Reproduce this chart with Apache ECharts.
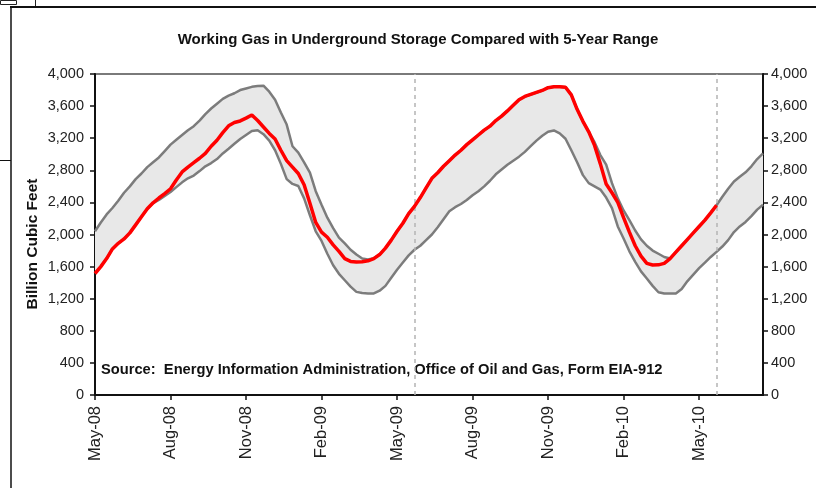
<!DOCTYPE html>
<html>
<head>
<meta charset="utf-8">
<script src="https://cdn.jsdelivr.net/npm/echarts@6/dist/echarts.min.js"></script>
<style>
html,body{margin:0;padding:0;background:#fff;}
#chart{width:816px;height:488px;}
</style>
</head>
<body>
<div id="chart"></div>
<script>
// Weekly observations, May 2008 to mid-July 2010 (116 weeks)
const tickLabels = ['May-08','Aug-08','Nov-08','Feb-09','May-09','Aug-09','Nov-09','Feb-10','May-10'];
const weekCount = 116;
const categories = Array.from({length: weekCount}, (_, i) => 'Week ' + (i + 1));

// 5-year maximum (Bcf)
const rangeMax = [
 2040,2150,2250,2330,2420,2520,2600,2690,2760,2840,
 2900,2960,3040,3120,3180,3240,3300,3350,3420,3500,
 3570,3630,3690,3730,3760,3800,3820,3840,3850,3855,
 3780,3680,3520,3370,3100,3020,2900,2770,2540,2370,
 2210,2080,1960,1890,1810,1750,1700,1690,1705,1750,
 1830,1930,2040,2140,2260,2350,2460,2580,2700,2770,
 2850,2920,2990,3050,3120,3180,3240,3300,3350,3420,
 3475,3540,3610,3680,3720,3745,3770,3795,3830,3840,
 3840,3835,3740,3560,3410,3280,3150,2990,2870,2640,
 2450,2300,2180,2050,1940,1860,1800,1760,1720,1700,
 1780,1860,1940,2020,2100,2180,2270,2364,2470,2570,
 2660,2720,2775,2850,2940,3010
];

// 5-year minimum (Bcf)
const rangeMin = [
 1514,1600,1700,1820,1890,1945,2020,2120,2220,2320,
 2390,2430,2480,2530,2590,2650,2700,2735,2790,2850,
 2890,2940,3010,3069,3130,3190,3240,3290,3300,3250,
 3170,3050,2880,2690,2630,2605,2450,2240,2040,1920,
 1760,1617,1510,1430,1350,1285,1270,1265,1265,1300,
 1360,1460,1560,1650,1740,1810,1860,1930,2000,2090,
 2190,2290,2340,2380,2430,2490,2540,2600,2670,2750,
 2810,2870,2920,2970,3030,3100,3170,3230,3280,3297,
 3260,3193,3050,2900,2740,2640,2600,2560,2460,2330,
 2100,1950,1790,1660,1540,1452,1360,1280,1265,1265,
 1265,1320,1420,1500,1580,1650,1720,1783,1850,1930,
 2030,2100,2156,2230,2310,2370
];

// Working gas in storage (Bcf), through week 108
const storage = [
 1514,1600,1700,1820,1890,1945,2020,2120,2220,2320,
 2395,2455,2510,2570,2680,2780,2840,2895,2950,3010,
 3100,3175,3270,3355,3395,3415,3450,3490,3420,3340,
 3260,3190,3050,2920,2840,2760,2620,2390,2150,2030,
 1965,1870,1790,1700,1665,1658,1660,1672,1700,1750,
 1830,1930,2040,2140,2260,2350,2460,2580,2700,2770,
 2850,2920,2990,3050,3120,3180,3240,3300,3350,3420,
 3475,3540,3610,3680,3720,3745,3770,3795,3830,3840,
 3840,3835,3740,3560,3410,3280,3110,2880,2630,2520,
 2400,2210,2030,1860,1730,1640,1620,1622,1640,1700,
 1780,1860,1940,2020,2100,2180,2270,2364
];

// Week indices of the dashed reference lines
const markerWeeks = [55, 107];

const bandWidth = rangeMax.map((v, i) => v - rangeMin[i]);
const storageFull = categories.map((_, i) => i < storage.length ? storage[i] : null);

const fmt = v => v.toLocaleString('en-US');
const labelFont = 'Liberation Sans, Arial, sans-serif';

const chart = echarts.init(document.getElementById('chart'), null, {renderer: 'canvas'});
chart.setOption({
  animation: false,
  backgroundColor: '#ffffff',
  title: {
    text: 'Working Gas in Underground Storage Compared with 5-Year Range',
    left: 413, top: 27, textAlign: 'center',
    textStyle: {fontFamily: labelFont, fontWeight: 'bold', fontSize: 15, color: '#111'}
  },
  grid: {
    left: 95, right: 53, top: 74, bottom: 93,
    show: true, borderColor: '#7a7a7a', borderWidth: 2, backgroundColor: '#fff'
  },
  xAxis: {
    type: 'category', data: categories, boundaryGap: false,
    axisLine: {lineStyle: {color: '#111', width: 2}},
    axisTick: {interval: 12, length: 5, lineStyle: {color: '#111', width: 1.5}},
    axisLabel: {
      interval: 12, rotate: 90, margin: 11,
      fontFamily: labelFont, fontSize: 16.5, color: '#222',
      formatter: (v, idx) => tickLabels[Math.round(idx / 13)] || ''
    },
    splitLine: {show: false}
  },
  yAxis: [{
    type: 'value', min: 0, max: 4000, interval: 400, position: 'left',
    axisLine: {show: true, lineStyle: {color: '#111', width: 2}},
    axisTick: {show: true, length: 5, lineStyle: {color: '#111', width: 1.5}},
    axisLabel: {formatter: fmt, margin: 11, fontFamily: labelFont, fontSize: 14.5, color: '#222'},
    splitLine: {show: false}
  }, {
    type: 'value', min: 0, max: 4000, interval: 400, position: 'right',
    axisLine: {show: true, lineStyle: {color: '#111', width: 2}},
    axisTick: {show: true, length: 5, lineStyle: {color: '#111', width: 1.5}},
    axisLabel: {formatter: fmt, margin: 8, fontFamily: labelFont, fontSize: 14.5, color: '#222'},
    splitLine: {show: false}
  }],
  series: [
    {
      name: 'minBase', type: 'line', data: rangeMin, stack: 'range', symbol: 'none',
      lineStyle: {width: 0, opacity: 0}, z: 1, silent: true
    },
    {
      name: 'band', type: 'line', data: bandWidth, stack: 'range', symbol: 'none',
      lineStyle: {width: 0, opacity: 0}, areaStyle: {color: '#e8e8e8', opacity: 1}, z: 1, silent: true
    },
    {
      name: '5-Year Minimum', type: 'line', data: rangeMin, symbol: 'none',
      lineStyle: {color: '#7c7c7c', width: 2.5}, z: 3
    },
    {
      name: '5-Year Maximum', type: 'line', data: rangeMax, symbol: 'none',
      lineStyle: {color: '#7c7c7c', width: 2.5}, z: 3
    },
    {
      name: 'Working Gas', type: 'line', data: storageFull, symbol: 'none', connectNulls: false,
      lineStyle: {color: '#ff0000', width: 3.5}, z: 5,
      markLine: {
        silent: true, symbol: ['none', 'none'], label: {show: false},
        lineStyle: {color: '#b4b4b4', type: [4, 4], width: 1.5},
        data: markerWeeks.map(w => ({xAxis: w}))
      }
    }
  ],
  graphic: [
    {type: 'text', x: 33, y: 244, rotation: Math.PI / 2, style: {
      text: 'Billion Cubic Feet', align: 'center', verticalAlign: 'middle',
      font: 'bold 15.5px Liberation Sans, Arial, sans-serif', fill: '#111'}},
    {type: 'text', left: 101, top: 362, style: {
      text: 'Source:  Energy Information Administration, Office of Oil and Gas, Form EIA-912',
      font: 'bold 14.7px Liberation Sans, Arial, sans-serif', fill: '#111'}},
    {type: 'rect', shape: {x: 0.5, y: 0.5, width: 16, height: 4}, style: {fill: 'none', stroke: '#222', lineWidth: 1}},
    {type: 'line', shape: {x1: 35.5, y1: 0, x2: 35.5, y2: 7}, style: {stroke: '#222', lineWidth: 1}},
    {type: 'line', shape: {x1: 10, y1: 7, x2: 816, y2: 7}, style: {stroke: '#111', lineWidth: 2}},
    {type: 'line', shape: {x1: 11, y1: 6, x2: 11, y2: 488}, style: {stroke: '#111', lineWidth: 1.5}},
    {type: 'line', shape: {x1: 0, y1: 160.5, x2: 11, y2: 160.5}, style: {stroke: '#111', lineWidth: 1}}
  ]
});
</script>
</body>
</html>
